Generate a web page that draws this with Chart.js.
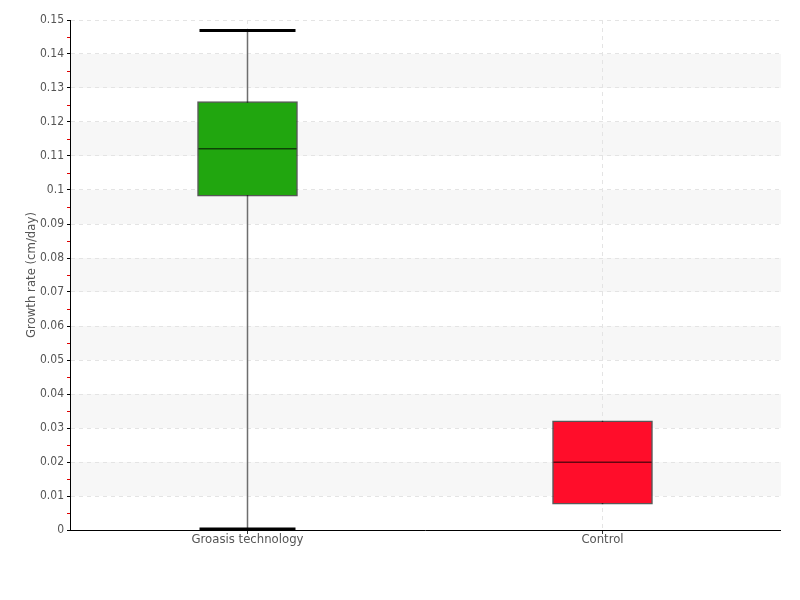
<!DOCTYPE html>
<html>
<head>
<meta charset="utf-8">
<script src="https://cdn.jsdelivr.net/npm/chart.js@4/dist/chart.umd.min.js"></script>
<style>
  html, body { margin: 0; padding: 0; background: #fff; }
  #wrap { width: 800px; height: 600px; }
</style>
</head>
<body>
<div id="wrap"><canvas id="myChart"></canvas></div>
<script>
const categories = ['Groasis technology', 'Control'];
const whiskerMin = [0.0003, 0.0076];
const q1 = [0.0982, 0.0076];
const median = [0.1121, 0.0199];
const q3 = [0.126, 0.0321];
const whiskerMax = [0.1469, 0.0321];
const boxColors = ['#21a60f', '#ff0d2a'];
const yTickLabels = ['0', '0.01', '0.02', '0.03', '0.04', '0.05', '0.06', '0.07',
    '0.08', '0.09', '0.1', '0.11', '0.12', '0.13', '0.14', '0.15'];

const FONT = "'Liberation Sans Narrow', 'DejaVu Sans Condensed', sans-serif";

// alternating grey bands behind the grid
const bandsPlugin = {
    id: 'bands',
    beforeDraw(chart) {
        const {ctx, chartArea, scales: {y}} = chart;
        ctx.save();
        ctx.fillStyle = '#f7f7f7';
        for (let i = 1; i < y.ticks.length - 1; i += 2) {
            const top = y.getPixelForValue(y.ticks[i + 1].value);
            const bottom = y.getPixelForValue(y.ticks[i].value);
            ctx.fillRect(chartArea.left, top, chartArea.right - chartArea.left + 1, bottom - top);
        }
        ctx.restore();
    },
    afterDraw(chart) {
        // red minor ticks halfway between the labelled ones
        const {ctx, scales: {y}} = chart;
        ctx.save();
        ctx.strokeStyle = '#e00000';
        ctx.lineWidth = 1;
        for (let i = 0; i < y.ticks.length - 1; i++) {
            const mid = (y.ticks[i].value + y.ticks[i + 1].value) / 2;
            const py = Math.round(y.getPixelForValue(mid)) + 0.5;
            ctx.beginPath();
            ctx.moveTo(y.right - 3, py);
            ctx.lineTo(y.right, py);
            ctx.stroke();
        }
        ctx.restore();
    }
};

// whiskers, caps and medians
const boxPlugin = {
    id: 'boxExtras',
    beforeDatasetsDraw(chart) {
        const {ctx, scales: {x, y}} = chart;
        ctx.save();
        ctx.strokeStyle = '#6e6e6e';
        ctx.lineWidth = 1.5;
        categories.forEach((c, i) => {
            const px = x.getPixelForValue(i);
            ctx.beginPath();
            ctx.moveTo(px, y.getPixelForValue(whiskerMin[i]));
            ctx.lineTo(px, y.getPixelForValue(whiskerMax[i]));
            ctx.stroke();
        });
        ctx.restore();
    },
    afterDatasetsDraw(chart) {
        const {ctx, scales: {x, y}} = chart;
        ctx.save();
        categories.forEach((c, i) => {
            const px = x.getPixelForValue(i);
            ctx.strokeStyle = 'rgba(0,0,0,0.6)';
            ctx.lineWidth = 1.5;
            const pm = y.getPixelForValue(median[i]);
            ctx.beginPath();
            ctx.moveTo(px - 49, pm);
            ctx.lineTo(px + 49, pm);
            ctx.stroke();

            ctx.strokeStyle = '#000';
            ctx.lineWidth = 3;
            if (whiskerMax[i] > q3[i]) {
                const p = y.getPixelForValue(whiskerMax[i]);
                ctx.beginPath();
                ctx.moveTo(px - 48, p);
                ctx.lineTo(px + 48, p);
                ctx.stroke();
            }
            if (whiskerMin[i] < q1[i]) {
                const p = y.getPixelForValue(whiskerMin[i]);
                ctx.beginPath();
                ctx.moveTo(px - 48, p);
                ctx.lineTo(px + 48, p);
                ctx.stroke();
            }
        });
        ctx.restore();
    }
};

const ctx = document.getElementById('myChart').getContext('2d');
new Chart(ctx, {
    type: 'bar',
    data: {
        labels: categories,
        datasets: [{
            data: categories.map((c, i) => [q1[i], q3[i]]),
            backgroundColor: boxColors,
            borderColor: 'rgba(0,0,0,0.65)',
            borderWidth: 1.5,
            borderSkipped: false,
            barThickness: 100
        }]
    },
    options: {
        responsive: true,
        maintainAspectRatio: false,
        animation: false,
        layout: { padding: { top: 20, right: 20, left: 0, bottom: 0 } },
        plugins: {
            legend: { display: false },
            tooltip: { enabled: false }
        },
        scales: {
            x: {
                afterFit(scale) { scale.height = 70; },
                grid: {
                    offset: false,
                    color: '#e4e4e4',
                    lineWidth: 1,
                    tickColor: '#333',
                    tickLength: 4,
                    drawTicks: true
                },
                border: { display: true, color: '#000', width: 1, dash: [4, 4] },
                ticks: {
                    color: '#555',
                    padding: -2,
                    font: { family: FONT, size: 13 }
                }
            },
            y: {
                min: 0,
                max: 0.15,
                afterFit(scale) { scale.width = 70; },
                grid: {
                    color: '#e4e4e4',
                    tickColor: '#000',
                    tickLength: 3,
                    tickBorderDash: [],
                    drawTicks: true
                },
                border: { display: true, color: '#000', width: 1, dash: [4, 4] },
                ticks: {
                    stepSize: 0.01,
                    color: '#555',
                    padding: 3,
                    font: { family: FONT, size: 12 },
                    callback: (v, idx) => yTickLabels[idx]
                },
                title: {
                    display: true,
                    text: 'Growth rate (cm/day)',
                    color: '#555',
                    padding: { top: 24, bottom: 0 },
                    font: { family: FONT, size: 13 }
                }
            }
        }
    },
    plugins: [bandsPlugin, boxPlugin]
});
</script>
</body>
</html>
